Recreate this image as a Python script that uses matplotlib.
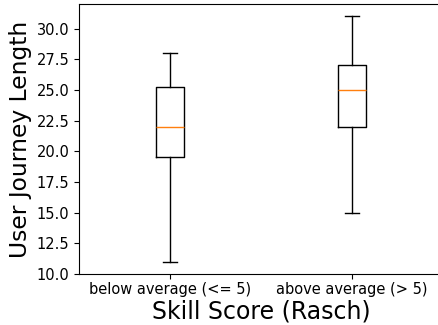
import matplotlib
matplotlib.use("Agg")
import matplotlib.pyplot as plt

# box stats
groups = ["below average (<= 5)", "above average (> 5)"]
whislo = [11.0, 15.0]
q1 = [19.5, 22.0]
med = [22.0, 25.0]
q3 = [25.25, 27.0]
whishi = [28.0, 31.0]

stats = []
for i in range(len(groups)):
    stats.append({"label": groups[i], "whislo": whislo[i], "q1": q1[i],
                  "med": med[i], "q3": q3[i], "whishi": whishi[i], "fliers": []})

W, H = 438, 325
fig = plt.figure(figsize=(W / 100, H / 100), dpi=100)
# the right edge of the axes runs past the picture (cropped in the original)
ax = fig.add_axes([79 / W, 1 - 274 / H, 364 / W, 270 / H])

ax.bxp(stats)
ax.set_ylim(10, 32)
ax.tick_params(labelsize=10.5)
ax.tick_params(axis="x", pad=2.5)
ax.set_xlabel("Skill Score (Rasch)", fontsize=17, labelpad=1.5)
ax.set_ylabel("User Journey Length", fontsize=16.8, labelpad=3)

fig.savefig("out.png")
